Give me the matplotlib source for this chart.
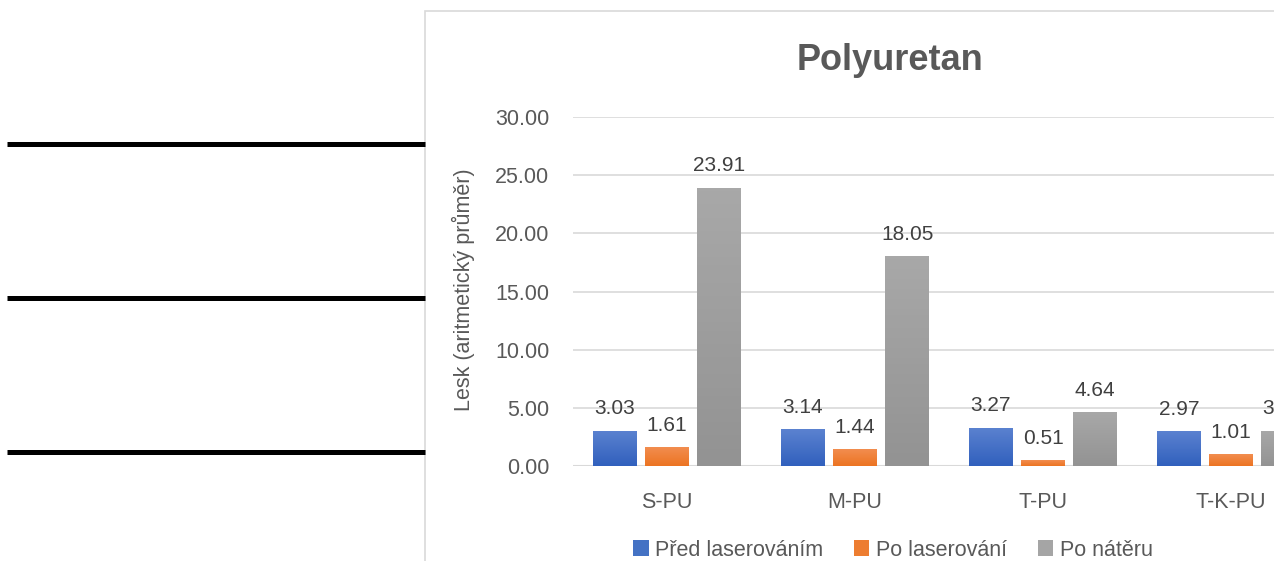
import matplotlib
matplotlib.use('Agg')
import matplotlib.pyplot as plt
from matplotlib.patches import Rectangle, Patch
from matplotlib.colors import LinearSegmentedColormap
import numpy as np

plt.rcParams['font.family'] = ['Liberation Sans', 'DejaVu Sans']

categories = ['S-PU', 'M-PU', 'T-PU', 'T-K-PU']
pred_laser = [3.03, 3.14, 3.27, 2.97]
po_laser = [1.61, 1.44, 0.51, 1.01]
po_nateru = [23.91, 18.05, 4.64, 3.04]
series_names = ['Před laserováním', 'Po laserování', 'Po nátěru']
colors = ['#4472C4', '#ED7D31', '#A5A5A5']
# light (top) -> dark (bottom) for the gradient fill
grads = [('#5b82d0', '#3160bd'), ('#f28d4f', '#ec7422'), ('#a8a8a8', '#939393')]
text_col = '#595959'

W, H = 1274, 561
fig = plt.figure(figsize=(W / 100, H / 100), dpi=100)

# black lines on the left side
for y in [143.5, 297.5, 451.5]:
    fig.add_artist(plt.Line2D([7 / W, 425 / W], [1 - y / H, 1 - y / H], color='black',
                              lw=3.6, solid_capstyle='butt', transform=fig.transFigure))

# chart area frame
fig.add_artist(Rectangle((425 / W, -0.2), 1.0, 1.2 - 11 / H, transform=fig.transFigure,
                         facecolor='none', edgecolor='#d9d9d9', lw=1.2))

ax = fig.add_axes([573 / W, 1 - 466 / H, 4 * 188 / W, (466 - 117) / H])
x = np.arange(len(categories))
bw = 0.23
pitch = 0.277
grad = np.linspace(0, 1, 64).reshape(-1, 1)
for i, (vals, col) in enumerate(zip([pred_laser, po_laser, po_nateru], colors)):
    bars = ax.bar(x + (i - 1) * pitch, vals, bw, color=col, label=series_names[i], zorder=3)
    cmap = LinearSegmentedColormap.from_list('g%d' % i, [grads[i][1], grads[i][0]])
    for b, v in zip(bars, vals):
        x0 = b.get_x()
        im = ax.imshow(grad, cmap=cmap, aspect='auto', origin='lower',
                       extent=[x0, x0 + b.get_width(), 0, v], zorder=3.5)
        im.set_clip_path(b)
        ax.annotate(f'{v:.2f}', (x0 + b.get_width() / 2, v), xytext=(0, 9),
                    textcoords='offset points', ha='center', va='bottom',
                    fontsize=15, color='#404040', annotation_clip=False)

ax.set_xlim(-0.5, len(categories) - 0.5)
ax.set_ylim(0, 30)
ax.set_yticks(np.arange(0, 31, 5))
ax.set_yticklabels([f'{v:.2f}' for v in np.arange(0, 31, 5)])
ax.set_xticks(x)
ax.set_xticklabels(categories)
ax.tick_params(axis='both', length=0, labelsize=15.5, labelcolor=text_col)
ax.tick_params(axis='y', pad=17)
ax.tick_params(axis='x', pad=19)
ax.grid(axis='y', color='#d9d9d9', lw=1.2, zorder=0)
for s in ax.spines.values():
    s.set_visible(False)
ax.axhline(0, color='#d9d9d9', lw=1.5, zorder=2)

fig.text(463 / W, 1 - 290 / H, 'Lesk (aritmetický průměr)', rotation=90,
         ha='center', va='center', fontsize=15.5, color=text_col)
fig.text(890 / W, 1 - 60 / H, 'Polyuretan', ha='center', va='center',
         fontsize=26, fontweight='bold', color=text_col)

handles = [Patch(facecolor=c) for c in colors]
fig.legend(handles, series_names, loc='center', bbox_to_anchor=(893 / W, 1 - 550 / H),
           ncol=3, frameon=False, fontsize=15.5, handlelength=0.7, handleheight=0.7,
           handletextpad=0.3, columnspacing=1.45, labelcolor=text_col)

fig.savefig('out.png', dpi=100)
